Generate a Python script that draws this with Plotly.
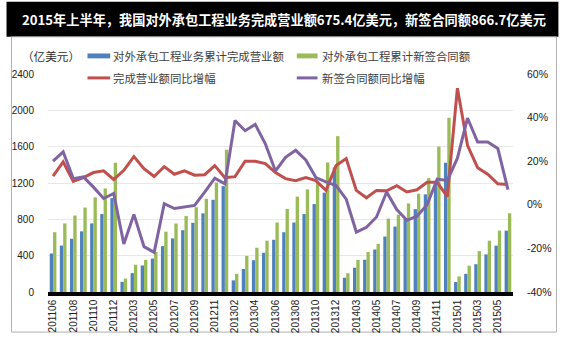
import plotly.graph_objects as go

months = ["201106", "201107", "201108", "201109", "201110", "201111", "201112",
          "201202", "201203", "201204", "201205", "201206", "201207", "201208",
          "201209", "201210", "201211", "201212",
          "201302", "201303", "201304", "201305", "201306", "201307", "201308",
          "201309", "201310", "201311", "201312",
          "201402", "201403", "201404", "201405", "201406", "201407", "201408",
          "201409", "201410", "201411", "201412",
          "201501", "201502", "201503", "201504", "201505", "201506"]

completed = [424, 511, 586, 668, 755, 858, 1034,
             112, 208, 292, 368, 505, 590, 680, 762, 866, 1015, 1166,
             128, 253, 350, 432, 575, 658, 765, 858, 968, 1094, 1371,
             157, 267, 355, 468, 610, 720, 805, 912, 1075, 1205, 1424,
             110, 200, 306, 414, 510, 675.4]

contracts = [658, 755, 842, 930, 1042, 1140, 1423,
             148, 300, 354, 441, 664, 754, 836, 933, 1026, 1205, 1565,
             200, 397, 487, 565, 765, 915, 1050, 1130, 1208, 1426, 1716,
             207, 354, 440, 530, 808, 852, 975, 1082, 1254, 1600, 1918,
             172, 290, 450, 565, 676, 866.7]

completed_yoy = [13.2, 19.7, 10.7, 12.5, 14.8, 15.6, 11.6,
                 15.8, 22.1, 16.6, 13.0, 17.5, 14.0, 15.6, 13.6, 13.8, 18.0, 12.4,
                 12.9, 20.0, 20.0, 18.9, 14.8, 12.0, 11.1, 12.5, 11.1, 6.6, 18.0,
                 21.2, 6.6, 3.2, 6.6, 6.4, 8.8, 5.9, 6.9, 10.3, 10.3, 3.7,
                 53.5, 27.3, 17.0, 14.0, 9.6, 9.3]

contracts_yoy = [20.0, 24.3, 12.0, 12.8, 8.1, 2.9, 5.2,
                 -18.0, -4.4, -19.2, -21.8, 0.5, -1.7, -0.9, -0.3, 5.8, 12.2, 9.6,
                 38.7, 34.0, 36.9, 28.0, 15.5, 21.8, 25.0, 20.6, 12.5, 10.5, 8.8,
                 2.6, -12.5, -10.3, -5.6, 5.9, -2.2, -7.1, -5.2, 0.0, 11.8, 11.1,
                 21.4, 39.8, 28.8, 28.8, 25.8, 7.0]

tick_labels = months[::2]
left_ticks = [0, 400, 800, 1200, 1600, 2000, 2400]
right_ticks = [-40, -20, 0, 20, 40, 60]

title_text = "2015年上半年，我国对外承包工程业务完成营业额675.4亿美元，新签合同额866.7亿美元"
unit_text = "（亿美元）"
names = ["对外承包工程业务累计完成营业额", "对外承包工程累计新签合同额",
         "完成营业额同比增幅", "新签合同额同比增幅"]
colors = ["#4f81bd", "#9bbb59", "#c0504d", "#8064a2"]

W, H = 564, 345
L, R, T, B = 42, 51, 74, 48
PW, PH = W - L - R, H - T - B


def px(x):
    return (x - L) / PW


def py(y):
    return (H - B - y) / PH


CJK = "Noto Sans CJK SC"
NUM = "Liberation Sans"

fig = go.Figure()
fig.add_trace(go.Bar(x=months, y=completed, name=names[0], marker_color=colors[0],
                     marker_line_width=0, yaxis="y"))
fig.add_trace(go.Bar(x=months, y=contracts, name=names[1], marker_color=colors[1],
                     marker_line_width=0, yaxis="y"))
fig.add_trace(go.Scatter(x=months, y=completed_yoy, name=names[2], mode="lines",
                         line=dict(color=colors[2], width=3), yaxis="y2"))
fig.add_trace(go.Scatter(x=months, y=contracts_yoy, name=names[3], mode="lines",
                         line=dict(color=colors[3], width=3), yaxis="y2"))

shapes = [
    # title bar
    dict(type="rect", xref="paper", yref="paper", x0=px(0), x1=px(559), y0=py(36), y1=py(0),
         fillcolor="black", line_width=0, layer="below"),
    # chart frame
    dict(type="rect", xref="paper", yref="paper", x0=px(5), x1=px(557), y0=py(338), y1=py(36),
         fillcolor="rgba(0,0,0,0)", line=dict(color="#b0b0b0", width=1), layer="below"),
    # legend swatches
    dict(type="rect", xref="paper", yref="paper", x0=px(82), x1=px(105), y0=py(58), y1=py(53),
         fillcolor=colors[0], line_width=0),
    dict(type="rect", xref="paper", yref="paper", x0=px(294), x1=px(315), y0=py(58), y1=py(53),
         fillcolor=colors[1], line_width=0),
    dict(type="line", xref="paper", yref="paper", x0=px(82), x1=px(105), y0=py(78), y1=py(78),
         line=dict(color=colors[2], width=3)),
    dict(type="line", xref="paper", yref="paper", x0=px(294), x1=px(315), y0=py(78), y1=py(78),
         line=dict(color=colors[3], width=3)),
]

lf = dict(family=CJK, size=11.4, color="#404040")
annotations = [
    dict(text="<b>" + title_text + "</b>", xref="paper", yref="paper", x=px(281), y=py(18),
         xanchor="center", yanchor="middle", showarrow=False,
         font=dict(family=CJK, size=13.2, color="white")),
    dict(text=unit_text, xref="paper", yref="paper", x=px(14), y=py(55.5),
         xanchor="left", yanchor="middle", showarrow=False,
         font=dict(family=CJK, size=11.6, color="#303030")),
    dict(text=names[0], xref="paper", yref="paper", x=px(106), y=py(55.5),
         xanchor="left", yanchor="middle", showarrow=False, font=lf),
    dict(text=names[1], xref="paper", yref="paper", x=px(318), y=py(55.5),
         xanchor="left", yanchor="middle", showarrow=False, font=lf),
    dict(text=names[2], xref="paper", yref="paper", x=px(106), y=py(78.5),
         xanchor="left", yanchor="middle", showarrow=False, font=lf),
    dict(text=names[3], xref="paper", yref="paper", x=px(318), y=py(78.5),
         xanchor="left", yanchor="middle", showarrow=False, font=lf),
]

fig.update_layout(
    width=W, height=H,
    margin=dict(l=L, r=R, t=T, b=B, pad=0),
    paper_bgcolor="white", plot_bgcolor="white",
    barmode="group", bargap=0.34, bargroupgap=0,
    showlegend=False,
    shapes=shapes, annotations=annotations,
    xaxis=dict(type="category", tickmode="array", tickvals=tick_labels, ticktext=tick_labels,
               tickangle=-90, tickfont=dict(family=NUM, size=10, color="#202020"),
               showline=True, linecolor="black", linewidth=3.5, ticks="", showgrid=False,
               zeroline=False),
    yaxis=dict(range=[0, 2400], tickmode="array", tickvals=left_ticks,
               tickfont=dict(family=NUM, size=10, color="#202020"),
               showgrid=True, gridcolor="#e8e8e8", gridwidth=1, zeroline=False,
               showline=False, ticks="", ticklabelstandoff=13),
    yaxis2=dict(range=[-40, 60], overlaying="y", side="right", tickmode="array",
                tickvals=right_ticks, ticktext=[f"{v}%" for v in right_ticks],
                tickfont=dict(family=NUM, size=10.5, color="#202020"),
                showgrid=False, zeroline=False, showline=False, ticks="",
                ticklabelstandoff=13),
)

fig.write_html("out.html")
